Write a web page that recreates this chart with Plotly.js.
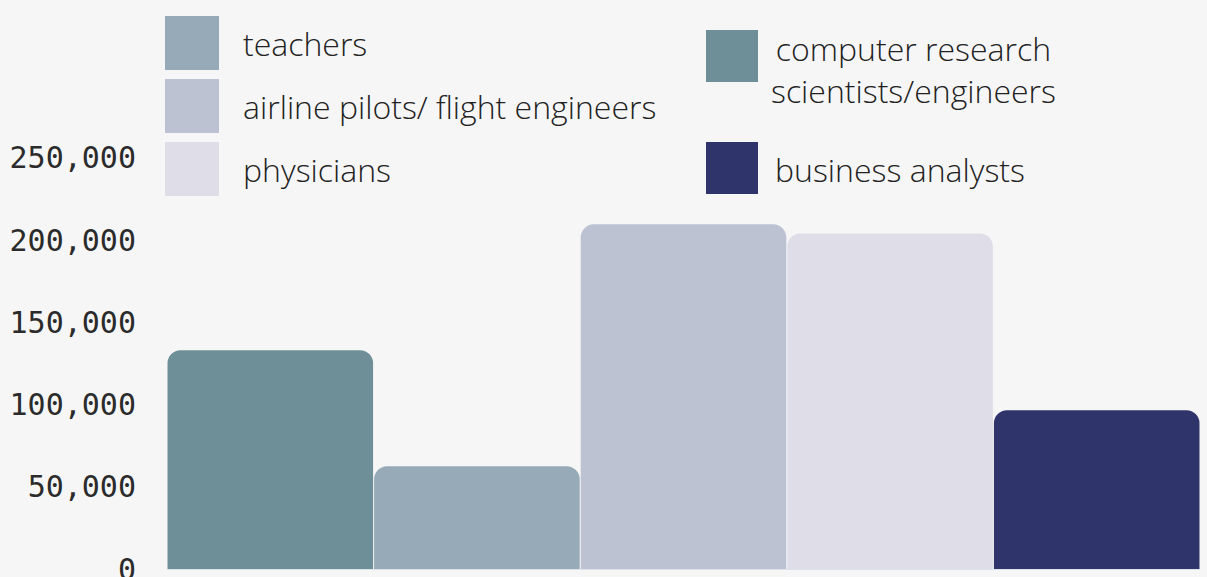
<!DOCTYPE html>
<html>
<head>
<meta charset="utf-8">
<script src="https://cdn.plot.ly/plotly-3.0.1.min.js"></script>
<style>
html,body{margin:0;padding:0;background:#f6f6f6;}
#chart{width:1207px;height:577px;}
</style>
</head>
<body>
<div id="chart"></div>
<script>
// ---- data ----
const categories = ['computer research scientists/engineers', 'teachers', 'airline pilots/ flight engineers', 'physicians', 'business analysts'];
const salaries = [133000, 62500, 209500, 204000, 96500];
const barColors = ['#6e8f97', '#97aab8', '#bcc2d2', '#dfdde8', '#2f346b'];
const yTickVals = [0, 50000, 100000, 150000, 200000, 250000];
const yTickText = ['0', '50,000', '100,000', '150,000', '200,000', '250,000'];
const legendLabels = ['teachers', 'airline pilots/ flight engineers', 'physicians', 'computer research<br>scientists/engineers', 'business analysts'];
const legendKeys = ['teachers', 'airline pilots/ flight engineers', 'physicians', 'computer research scientists/engineers', 'business analysts'];

// ---- layout geometry (pixels) ----
const W = 1207, H = 577;
const M = {l: 167, r: 7, t: 10, b: 8};
const PW = W - M.l - M.r, PH = H - M.t - M.b;
const px = x => (x - M.l) / PW;
const py = y => (H - M.b - y) / PH;
const pxPerUnit = 82.25 / 50000;
const yMax = PH / pxPerUnit;

// legend slots: [squareLeft, squareTop, size, textX, textCenterY, align]
const legendSlots = [
  [165, 16, 54, 241, 44, 'left'],
  [165, 79, 54, 241, 106, 'left'],
  [165, 142, 54, 241, 169, 'left'],
  [706, 30, 52, 769, 69.5, 'center'],
  [706, 142, 52, 773, 169, 'left']
];

const shapes = [];
const annotations = [];
legendKeys.forEach((key, i) => {
  const s = legendSlots[i];
  const color = barColors[categories.indexOf(key)];
  shapes.push({
    type: 'rect', xref: 'paper', yref: 'paper',
    x0: px(s[0]), x1: px(s[0] + s[2]), y0: py(s[1] + s[2]), y1: py(s[1]),
    fillcolor: color, line: {width: 0}, layer: 'above'
  });
  annotations.push({
    xref: 'paper', yref: 'paper', x: px(s[3]), y: py(s[4]),
    xanchor: 'left', yanchor: 'middle', align: s[5], showarrow: false,
    text: legendLabels[i],
    font: {family: 'Open Sans, sans-serif', size: 32, color: '#222', weight: 300}
  });
});

const trace = {
  type: 'bar',
  x: categories,
  y: salaries,
  marker: {color: barColors, line: {width: 0}},
  hoverinfo: 'x+y'
};

const layout = {
  width: W, height: H,
  margin: M,
  paper_bgcolor: '#f6f6f6',
  plot_bgcolor: '#f6f6f6',
  showlegend: false,
  bargap: 0.005,
  barcornerradius: 13,
  xaxis: {
    type: 'category', showticklabels: false, showgrid: false,
    showline: true, linecolor: '#dde3ea', linewidth: 1, zeroline: false, ticks: ''
  },
  yaxis: {
    range: [0, yMax], tickvals: yTickVals, ticktext: yTickText,
    showgrid: false, zeroline: false, showline: false, ticks: '',
    ticklabelstandoff: 30, ticklabeloverflow: 'allow',
    tickfont: {family: 'DejaVu Sans Mono, monospace', size: 30, color: '#2b2b2b'}
  },
  shapes: shapes,
  annotations: annotations
};

Plotly.newPlot('chart', [trace], layout, {displayModeBar: false, staticPlot: true});
</script>
</body>
</html>
